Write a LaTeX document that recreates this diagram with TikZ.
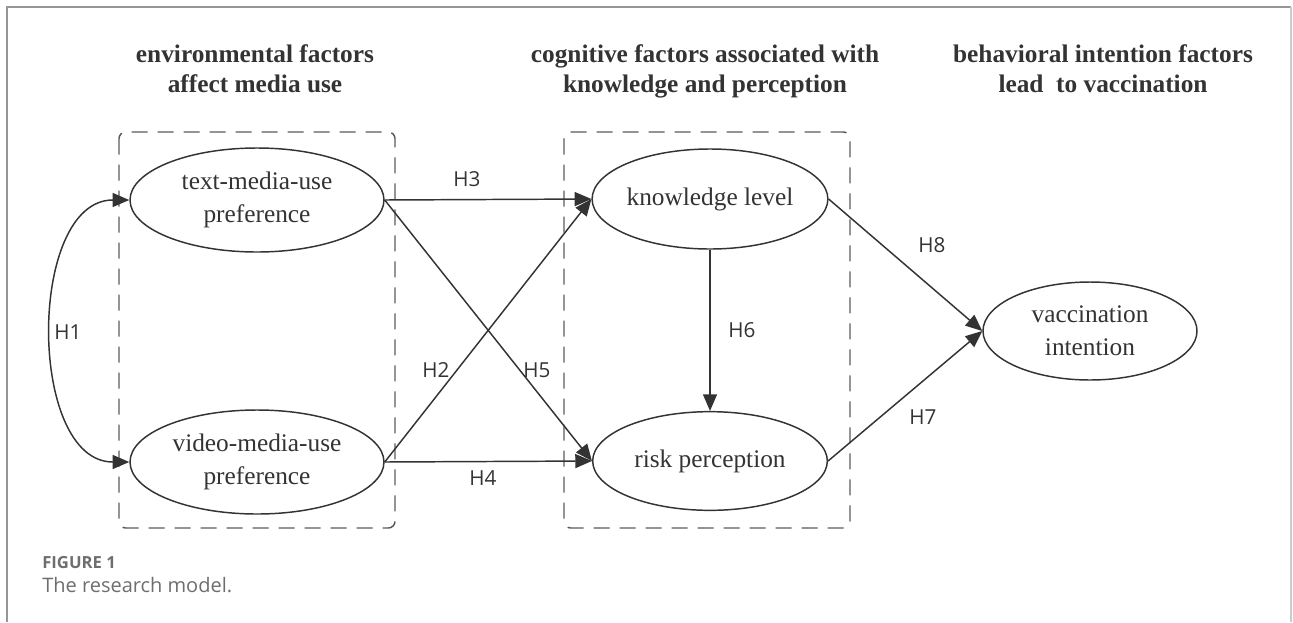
\documentclass[tikz,border=0pt]{standalone}
\usepackage{fontspec}
\setmainfont{Liberation Serif}
\newfontfamily\rotulofont{Open Sans}
\newfontfamily\legendafont{Open Sans}
\usetikzlibrary{arrows.meta, shapes.geometric}
\usepackage{xcolor}
\definecolor{linha}{RGB}{51, 51, 51}
\definecolor{tracejado}{RGB}{90, 90, 90}
\definecolor{legenda}{RGB}{110, 110, 110}
\definecolor{moldura}{RGB}{150, 150, 150}
\tikzset{
  elipse/.style={
    draw=linha, ellipse, line width=1.1pt, align=center, inner sep=0pt,
    font=\fontsize{19}{24.5}\selectfont, text=linha
  },
  titulo/.style={align=center, anchor=base, font=\fontsize{19}{22.5}\selectfont\bfseries, text=linha},
  rotulo/.style={font=\rotulofont\fontsize{15.5}{18}\selectfont, text=linha, inner sep=0pt},
  seta/.style={-{Triangle[length=12.5pt, width=10.5pt]}, line width=1.1pt, draw=linha},
  caixa/.style={draw=tracejado, dash pattern=on 12pt off 7.5pt, line width=1.1pt, rounded corners=5pt},
}

\begin{document}
\begin{tikzpicture}[x=0.75pt, y=-0.75pt]
\useasboundingbox (0,0) rectangle (1293,622);

\draw[moldura, line width=0.8pt] (7,622) |- (1291,7);
\draw[moldura!50, line width=0.8pt] (1291,7) -- (1291,622);

\node[titulo] (tit1) at (255,92) {environmental factors\\affect media use};
\node[titulo] (tit2) at (705,92) {cognitive factors associated with\\knowledge and perception};
\node[titulo] (tit3) at (1103,92) {behavioral intention factors\\lead\ \ to vaccination};

\draw[caixa] (119,132) rectangle (395,528);
\draw[caixa] (564,132) rectangle (850,528);

\node[elipse, minimum width=190.5pt, minimum height=78pt] (text) at (257,200)
{text-media-use\\preference};
\node[elipse, minimum width=190.5pt, minimum height=78pt] (video) at (257,462)
{video-media-use\\preference};
\node[elipse, minimum width=176pt, minimum height=75pt] (know) at (710,199)
{knowledge level};
\node[elipse, minimum width=176pt, minimum height=74pt] (risk) at (710,461)
{risk perception};
\node[elipse, minimum width=160.5pt, minimum height=73.5pt] (vacc) at (1090,331)
{vaccination\\intention};

\draw[seta, {Triangle[length=12.5pt, width=10.5pt]}-{Triangle[length=12.5pt, width=10.5pt]}]
  (text.west) to[out=180, in=180] (video.west);
\draw[seta] (text.east) -- (know.west);
\draw[seta] (video.east) -- (know.west);
\draw[seta] (text.east) -- (risk.west);
\draw[seta] (video.east) -- (risk.west);
\draw[seta] (know.south) -- (risk.north);
\draw[seta] (know.east) -- (vacc.west);
\draw[seta] (risk.east) -- (vacc.west);

\node[rotulo] (h1) at (68,332) {H1};
\node[rotulo] (h2) at (436,370) {H2};
\node[rotulo] (h3) at (467,179) {H3};
\node[rotulo] (h4) at (483,478) {H4};
\node[rotulo] (h5) at (537,370) {H5};
\node[rotulo] (h6) at (742,330) {H6};
\node[rotulo] (h7) at (923,417) {H7};
\node[rotulo] (h8) at (932,245) {H8};

\node[anchor=base west, inner sep=0pt, text=legenda, font=\legendafont\bfseries\fontsize{12.5}{14}\selectfont] (fig) at (42,568) {FIGURE 1};
\node[anchor=base west, inner sep=0pt, text=legenda, font=\legendafont\fontsize{15}{18}\selectfont] (cap) at (42,592) {The research model.};

\end{tikzpicture}
\end{document}
